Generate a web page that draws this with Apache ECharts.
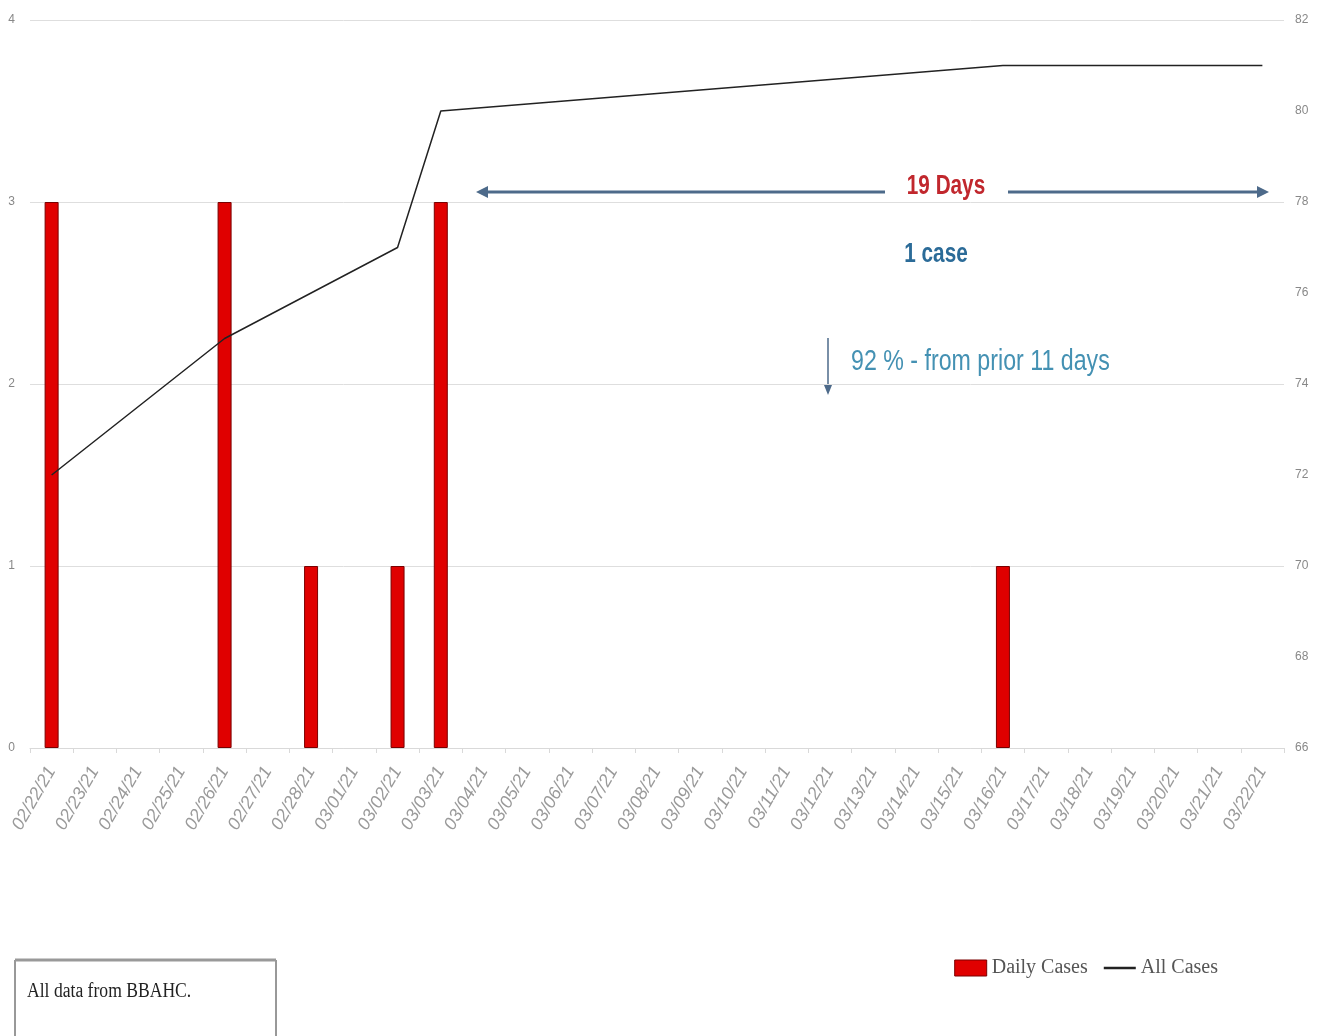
<!DOCTYPE html>
<html><head><meta charset="utf-8">
<script src="https://cdn.jsdelivr.net/npm/echarts@6/dist/echarts.min.js"></script>
<style>html,body{margin:0;padding:0;background:#fff;}#c{width:1323px;height:1036px;}</style>
</head><body><div id="c"></div>
<script>
const dates = ['02/22/21','02/23/21','02/24/21','02/25/21','02/26/21','02/27/21','02/28/21','03/01/21','03/02/21','03/03/21','03/04/21','03/05/21','03/06/21','03/07/21','03/08/21','03/09/21','03/10/21','03/11/21','03/12/21','03/13/21','03/14/21','03/15/21','03/16/21','03/17/21','03/18/21','03/19/21','03/20/21','03/21/21','03/22/21'];
const dailyCases = [3,0,0,0,3,0,1,0,1,3,0,0,0,0,0,0,0,0,0,0,0,0,1,0,0,0,0,0,0];
const allCases = [72,null,null,null,75,null,76,null,77,80,null,null,null,null,null,null,null,null,null,null,null,null,81,null,null,null,null,null,81];
const leftTicks = {min:0,max:4,interval:1};
const rightTicks = {min:66,max:82,interval:2};

const chart = echarts.init(document.getElementById('c'));
const sans = "'Liberation Sans','DejaVu Sans',sans-serif";
const serif = "'Liberation Serif','DejaVu Serif',serif";
const arrowCol = '#4d6a8a';
// zero-case days draw no bar
const barData = dailyCases.map(v => v === 0 ? '-' : v);
chart.setOption({
  animation:false,
  backgroundColor:'#fff',
  grid:{left:30,right:39,top:20,bottom:288},
  legend:{
    right:100,top:953,itemGap:16,
    textStyle:{fontFamily:serif,fontSize:20,color:'#555'},
    data:[
      {name:'Daily Cases',icon:'rect',itemStyle:{color:'#e00000',borderColor:'#7a0000',borderWidth:1}},
      {name:'All Cases',icon:'path://M0,0 L20,0 L20,1.5 L0,1.5 Z',itemStyle:{color:'#222'}}
    ],
    itemWidth:32,itemHeight:16
  },
  xAxis:{
    type:'category',data:dates,boundaryGap:true,
    axisLine:{lineStyle:{color:'#d9d9d9'}},
    axisTick:{show:true,length:5,lineStyle:{color:'#d9d9d9'}},
    axisLabel:{rotate:60,interval:0,fontSize:18,color:'#9a9a9a',fontFamily:sans,fontStyle:'italic',margin:20}
  },
  yAxis:[
    {type:'value',min:leftTicks.min,max:leftTicks.max,interval:leftTicks.interval,
     axisLabel:{fontSize:12,color:'#888',fontFamily:sans,margin:15},
     axisLine:{show:false},axisTick:{show:false},
     splitLine:{lineStyle:{color:'#dedede'}}},
    {type:'value',min:rightTicks.min,max:rightTicks.max,interval:rightTicks.interval,position:'right',
     axisLabel:{fontSize:12,color:'#888',fontFamily:sans,margin:11},
     axisLine:{show:false},axisTick:{show:false},splitLine:{show:false}}
  ],
  series:[
    {name:'Daily Cases',type:'bar',data:barData,barWidth:14,yAxisIndex:0,
     itemStyle:{color:'#e00000',borderColor:'#7a0000',borderWidth:1}},
    {name:'All Cases',type:'line',data:allCases,yAxisIndex:1,connectNulls:true,
     showSymbol:false,symbol:'none',lineStyle:{color:'#222',width:1.5},itemStyle:{color:'#222'}}
  ],
  graphic:[
    {type:'line',shape:{x1:484,y1:192,x2:885,y2:192},style:{stroke:arrowCol,lineWidth:3}},
    {type:'polygon',shape:{points:[[476,192],[488,186],[488,198]]},style:{fill:arrowCol}},
    {type:'line',shape:{x1:1008,y1:192,x2:1260,y2:192},style:{stroke:arrowCol,lineWidth:3}},
    {type:'polygon',shape:{points:[[1269,192],[1257,186],[1257,198]]},style:{fill:arrowCol}},
    {type:'text',x:946,y:186,scaleX:0.74,style:{text:'19 Days',fill:'#c1272d',font:"bold 28px "+sans,textAlign:'center',textVerticalAlign:'middle'}},
    {type:'text',x:936,y:254,scaleX:0.74,style:{text:'1 case',fill:'#2b6b98',font:"bold 28px "+sans,textAlign:'center',textVerticalAlign:'middle'}},
    {type:'line',shape:{x1:828,y1:338,x2:828,y2:388},style:{stroke:arrowCol,lineWidth:1.5}},
    {type:'polygon',shape:{points:[[828,395],[824,385],[832,385]]},style:{fill:arrowCol}},
    {type:'text',x:851,y:362,scaleX:0.8,style:{text:'92 % - from prior 11 days',fill:'#4491b3',font:"29px "+sans,textAlign:'left',textVerticalAlign:'middle'}},
    {type:'rect',shape:{x:15,y:960,width:261,height:90},style:{fill:'#fff',stroke:'#333',lineWidth:1}},
    {type:'line',shape:{x1:15,y1:960,x2:276,y2:960},style:{stroke:'#999',lineWidth:3}},
    {type:'text',x:27,y:992,scaleX:0.88,style:{text:'All data from BBAHC.',fill:'#222',font:"20px "+serif,textAlign:'left',textVerticalAlign:'middle'}}
  ]
});
</script></body></html>
